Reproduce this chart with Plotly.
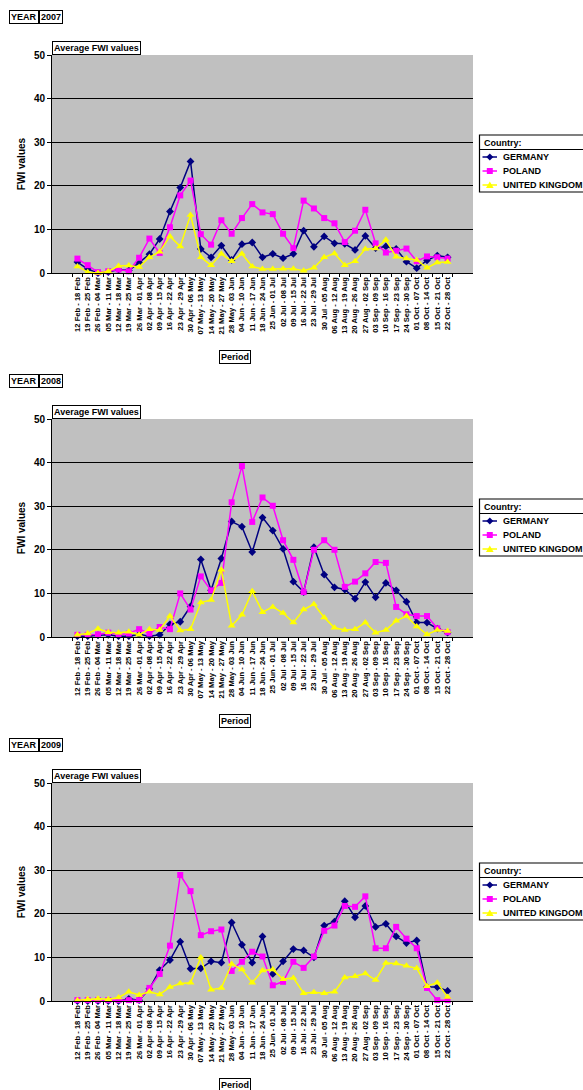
import plotly.graph_objects as go

periods = ["12 Feb - 18 Feb", "19 Feb - 25 Feb", "26 Feb - 04 Mar", "05 Mar - 11 Mar", "12 Mar - 18 Mar",
           "19 Mar - 25 Mar", "26 Mar - 01 Apr", "02 Apr - 08 Apr", "09 Apr - 15 Apr", "16 Apr - 22 Apr",
           "23 Apr - 29 Apr", "30 Apr - 06 May", "07 May - 13 May", "14 May - 20 May", "21 May - 27 May",
           "28 May - 03 Jun", "04 Jun - 10 Jun", "11 Jun - 17 Jun", "18 Jun - 24 Jun", "25 Jun - 01 Jul",
           "02 Jul - 08 Jul", "09 Jul - 15 Jul", "16 Jul - 22 Jul", "23 Jul - 29 Jul", "30 Jul - 05 Aug",
           "06 Aug - 12 Aug", "13 Aug - 19 Aug", "20 Aug - 26 Aug", "27 Aug - 02 Sep", "03 Sep - 09 Sep",
           "10 Sep - 16 Sep", "17 Sep - 23 Sep", "24 Sep - 30 Sep", "01 Oct - 07 Oct", "08 Oct - 14 Oct",
           "15 Oct - 21 Oct", "22 Oct - 28 Oct"]

years = ["2007", "2008", "2009"]
countries = ["GERMANY", "POLAND", "UNITED KINGDOM"]

germany_2007 = [2.5, 0.9, 0.0, 0.2, 0.8, 0.6, 2.4, 4.3, 7.8, 14.1, 19.6, 25.6, 5.5, 3.6, 6.3, 3.0, 6.6, 7.0, 3.6,
                4.4, 3.4, 4.4, 9.7, 6.0, 8.4, 6.8, 6.7, 5.3, 8.5, 5.7, 6.1, 5.5, 2.6, 1.1, 2.9, 4.0, 3.6]
poland_2007 = [3.3, 1.8, 0.2, 0.4, 0.8, 0.4, 3.5, 7.9, 4.6, 10.5, 17.8, 21.2, 8.9, 6.5, 12.1, 9.0, 12.6, 15.8, 13.9,
               13.5, 9.0, 5.7, 16.6, 14.8, 12.6, 11.4, 7.1, 9.7, 14.5, 6.8, 4.7, 5.1, 5.6, 2.7, 3.8, 3.6, 3.3]
uk_2007 = [1.5, 0.2, 0.0, 0.4, 1.6, 1.7, 1.4, 3.6, 4.9, 8.4, 6.1, 13.3, 3.6, 1.8, 4.4, 2.7, 4.4, 1.5, 0.9,
           0.9, 1.0, 1.0, 0.5, 1.2, 3.6, 4.5, 1.8, 2.7, 5.5, 5.6, 7.6, 3.7, 3.3, 3.0, 1.2, 2.4, 2.5]

germany_2008 = [0.2, 0.2, 0.4, 0.5, 0.2, 0.2, 0.6, 0.2, 0.5, 2.9, 3.5, 7.0, 17.8, 10.7, 18.0, 26.5, 25.3, 19.5, 27.4,
                24.4, 20.2, 12.7, 10.3, 20.6, 14.3, 11.4, 10.9, 8.8, 12.6, 9.1, 12.4, 10.7, 8.1, 3.3, 3.3, 1.9, 1.0]
poland_2008 = [0.5, 0.5, 0.6, 1.0, 0.5, 0.8, 1.8, 0.8, 2.3, 1.8, 10.0, 6.3, 13.9, 10.7, 12.4, 30.9, 39.2, 26.4, 32.0,
               30.1, 22.2, 17.7, 10.3, 20.0, 22.2, 20.0, 11.5, 12.7, 14.6, 17.2, 17.0, 6.9, 5.2, 4.8, 4.8, 2.0, 1.1]
uk_2008 = [0.5, 0.8, 1.9, 1.1, 1.0, 1.2, 0.5, 1.8, 1.6, 4.8, 1.5, 1.8, 7.9, 8.5, 15.4, 2.6, 5.1, 10.5, 5.7,
           6.9, 5.5, 3.3, 6.3, 7.5, 4.5, 2.1, 1.6, 1.8, 3.3, 1.0, 1.6, 3.7, 4.8, 2.4, 0.6, 1.6, 1.4]

germany_2009 = [0.0, 0.0, 0.0, 0.0, 0.0, 0.5, 0.2, 2.8, 7.1, 9.4, 13.6, 7.4, 7.5, 9.1, 8.8, 18.0, 12.9, 8.8, 14.8,
                6.2, 9.1, 11.9, 11.6, 10.0, 17.3, 18.2, 22.9, 19.2, 21.8, 17.0, 17.7, 14.8, 13.3, 13.9, 3.2, 3.2, 2.3]
poland_2009 = [0.2, 0.2, 0.2, 0.2, 0.2, 0.2, 0.2, 3.0, 6.2, 12.7, 28.9, 25.2, 15.1, 16.0, 16.4, 6.9, 9.0, 11.3, 10.2,
               3.6, 4.4, 9.0, 7.6, 10.2, 16.1, 17.3, 21.8, 21.6, 24.0, 12.1, 12.1, 17.0, 14.3, 12.1, 3.0, 0.2, 0.2]
uk_2009 = [0.2, 0.4, 0.5, 0.4, 0.8, 2.1, 1.4, 2.1, 1.5, 3.2, 4.0, 4.2, 10.0, 2.6, 3.0, 8.5, 7.2, 4.2, 7.0,
           7.2, 5.0, 5.3, 1.8, 2.0, 1.8, 2.1, 5.4, 5.7, 6.3, 4.8, 8.7, 8.6, 8.1, 7.5, 3.4, 4.2, 0.9]

y_ticks = [0, 10, 20, 30, 40, 50]

series = {
    "2007": [germany_2007, poland_2007, uk_2007],
    "2008": [germany_2008, poland_2008, uk_2008],
    "2009": [germany_2009, poland_2009, uk_2009],
}

W, H = 583, 1090
FONT = "Liberation Sans, Arial, sans-serif"
colors = ["#000080", "#FF00FF", "#FFFF00"]
symbols = ["diamond", "square", "triangle-up"]
msizes = [6, 6, 7]

# pixel layout of each panel: (plot top, plot bottom, legend top)
panels = [(55, 273, 135), (419, 637, 499), (783, 1001, 863)]
px_left, px_right = 52, 473


def px(p):
    return p / W


def py(p):
    return (H - p) / H


def glyph_path(sym, cx, cy):
    if sym == "diamond":
        pts = [(cx - 3.5, cy), (cx, cy - 3.5), (cx + 3.5, cy), (cx, cy + 3.5)]
    elif sym == "square":
        pts = [(cx - 3, cy - 3), (cx + 3, cy - 3), (cx + 3, cy + 3), (cx - 3, cy + 3)]
    else:
        pts = [(cx, cy - 3.5), (cx + 3.8, cy + 3), (cx - 3.8, cy + 3)]
    return "M " + " L ".join(f"{px(a):.5f},{py(b):.5f}" for a, b in pts) + " Z"


fig = go.Figure()
layout = dict(
    width=W, height=H,
    paper_bgcolor="white",
    plot_bgcolor="#C0C0C0",
    margin=dict(l=0, r=0, t=0, b=0, autoexpand=False),
    font=dict(family=FONT, size=9, color="black"),
    showlegend=False,
    annotations=[], shapes=[],
)
ann_font = dict(family=FONT, size=9, color="black", weight="bold")

for k, yr in enumerate(years):
    top, bot, ltop = panels[k]
    sfx = "" if k == 0 else str(k + 1)
    xa, ya = "x" + sfx, "y" + sfx
    for c in range(3):
        fig.add_trace(go.Scatter(
            x=periods, y=series[yr][c], name=countries[c], mode="lines+markers",
            line=dict(color=colors[c], width=1.5),
            marker=dict(symbol=symbols[c], size=msizes[c], color=colors[c], line=dict(width=0)),
            xaxis=xa, yaxis=ya, cliponaxis=False,
        ))
    layout["xaxis" + sfx] = dict(
        domain=[px(px_left), px(px_right)], anchor=ya, type="category",
        showline=True, linecolor="black", linewidth=1, mirror=False,
        ticks="outside", ticklen=3, tickcolor="black", tickson="boundaries",
        tickangle=-90, tickfont=dict(family=FONT, size=7.6, weight="bold"),
        showgrid=False, fixedrange=True,
    )
    layout["yaxis" + sfx] = dict(
        domain=[py(bot), py(top)], anchor=xa, range=[0, 50],
        tickvals=y_ticks, showline=True, linecolor="black", linewidth=1,
        ticks="outside", ticklen=4, tickcolor="black",
        showgrid=True, gridcolor="black", gridwidth=1, zeroline=False,
        tickfont=dict(family=FONT, size=10, weight="bold"),
        title=dict(text="FWI values", font=dict(family=FONT, size=10, weight="bold"), standoff=6),
        fixedrange=True,
    )

    # legend (box, title, separator, entries)
    lx0 = 479.5
    layout["shapes"].append(dict(type="rect", xref="paper", yref="paper",
                                 x0=px(lx0), x1=px(W + 5), y0=py(ltop + 57), y1=py(ltop),
                                 fillcolor="white", line=dict(color="black", width=1.2)))
    layout["shapes"].append(dict(type="line", xref="paper", yref="paper",
                                 x0=px(lx0), x1=px(W + 5), y0=py(ltop + 14.5), y1=py(ltop + 14.5),
                                 line=dict(color="black", width=1)))
    layout["annotations"].append(dict(text="Country:", xref="paper", yref="paper",
                                      x=px(481.5), xanchor="left", y=py(ltop + 8), yanchor="middle",
                                      showarrow=False, font=ann_font))
    for c in range(3):
        cy = ltop + 22 + c * 14
        layout["shapes"].append(dict(type="line", xref="paper", yref="paper",
                                     x0=px(482.5), x1=px(497), y0=py(cy), y1=py(cy),
                                     line=dict(color=colors[c], width=1.5)))
        layout["shapes"].append(dict(type="path", xref="paper", yref="paper",
                                     path=glyph_path(symbols[c], 489.8, cy),
                                     fillcolor=colors[c], line=dict(width=0)))
        layout["annotations"].append(dict(text=countries[c], xref="paper", yref="paper",
                                          x=px(500.5), xanchor="left", y=py(cy), yanchor="middle",
                                          showarrow=False, font=ann_font))

    layout["annotations"] += [
        dict(text="YEAR", xref="paper", yref="paper", x=px(39), xanchor="right",
             y=py(top - 38), yanchor="middle", showarrow=False, font=ann_font,
             bordercolor="black", borderwidth=1, borderpad=1, bgcolor="white"),
        dict(text=yr, xref="paper", yref="paper", x=px(39), xanchor="left",
             y=py(top - 38), yanchor="middle", showarrow=False, font=ann_font,
             bordercolor="black", borderwidth=1, borderpad=1, bgcolor="white"),
        dict(text="Average FWI values", xref="paper", yref="paper", x=px(px_left), xanchor="left",
             y=py(top), yanchor="bottom", showarrow=False, font=ann_font,
             bordercolor="black", borderwidth=1, borderpad=1, bgcolor="white"),
        dict(text="Period", xref="paper", yref="paper", x=px(235), xanchor="center",
             y=py(bot + 84), yanchor="middle", showarrow=False, font=ann_font,
             bordercolor="black", borderwidth=1, borderpad=1, bgcolor="white"),
    ]

fig.update_layout(**layout)
fig.write_html("out.html", config={"displayModeBar": False},
               post_script="document.body.style.margin='0px';")
